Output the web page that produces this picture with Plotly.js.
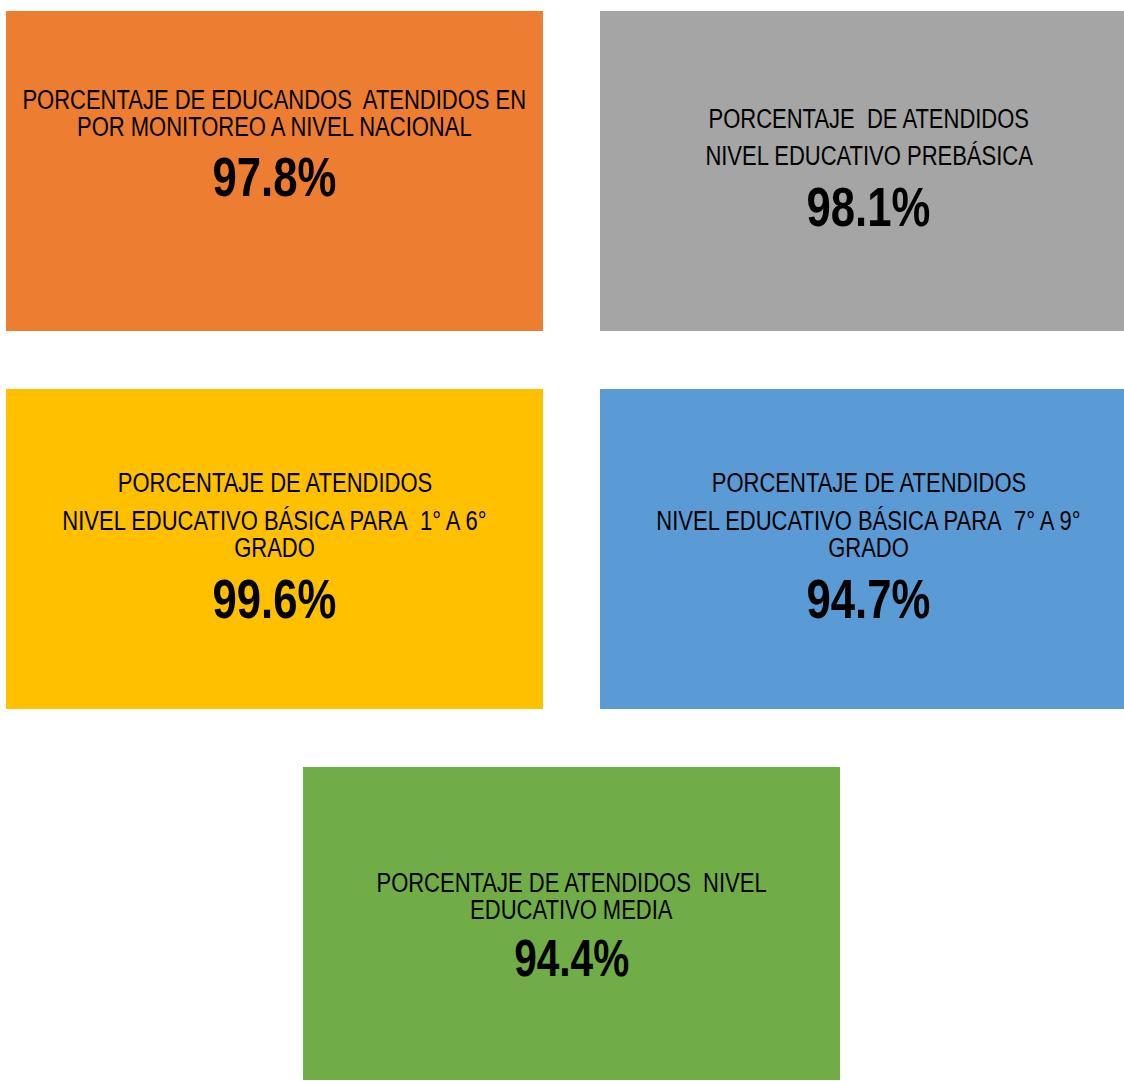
<!DOCTYPE html>
<html>
<head>
<meta charset="utf-8">
<script src="https://cdn.plot.ly/plotly-3.0.1.min.js"></script>
<style>
  html, body { margin: 0; padding: 0; background: #ffffff; }
  #chart { width: 1124px; height: 1081px; }
  #chart text.annotation-text { transform-box: fill-box; transform-origin: center; }
</style>
</head>
<body>
<div id="chart"></div>
<script>
// ---- Data ----
const cardTitles = [
  ["PORCENTAJE DE EDUCANDOS\u00a0 ATENDIDOS EN", "POR MONITOREO A NIVEL NACIONAL"],
  ["PORCENTAJE\u00a0 DE ATENDIDOS", "NIVEL EDUCATIVO PREBÁSICA"],
  ["PORCENTAJE DE ATENDIDOS", "NIVEL EDUCATIVO BÁSICA PARA\u00a0 1° A 6°", "GRADO"],
  ["PORCENTAJE DE ATENDIDOS", "NIVEL EDUCATIVO BÁSICA PARA\u00a0 7° A 9°", "GRADO"],
  ["PORCENTAJE DE ATENDIDOS\u00a0 NIVEL", "EDUCATIVO MEDIA"]
];
const cardValues = [97.8, 98.1, 99.6, 94.7, 94.4];
const cardColors = ["#ED7D31", "#A5A5A5", "#FFC000", "#5B9BD5", "#70AD47"];

// ---- Layout (positions in page pixels) ----
const boxes = [
  {x0: 6,   x1: 543,  y0: 11,  y1: 331},
  {x0: 600, x1: 1137, y0: 11,  y1: 331},
  {x0: 6,   x1: 543,  y0: 389, y1: 709},
  {x0: 600, x1: 1137, y0: 389, y1: 709},
  {x0: 303, x1: 840,  y0: 767, y1: 1080}
];
const titleLineY = [
  [100, 127],
  [119, 156],
  [483, 521, 548],
  [483, 521, 548],
  [883, 910]
];
const valueY = [176, 206, 598, 598, 958];
const centerX = [274.5, 868.5, 274.5, 868.5, 571.5];
const valueSizes = [56, 56, 56, 56, 52];

const FONT = "'Liberation Sans Narrow', 'Arial Narrow', 'Liberation Sans', Arial, sans-serif";
const titleSize = 27;
const titleSqueeze = 0.815;
const valueSqueeze = 0.78;

const shapes = boxes.map((b, i) => ({
  type: "rect", xref: "x", yref: "y",
  x0: b.x0, x1: b.x1, y0: b.y0, y1: b.y1,
  fillcolor: cardColors[i], line: {width: 0}, layer: "below"
}));

const annotations = [];
cardTitles.forEach((lines, i) => {
  lines.forEach((t, j) => {
    annotations.push({
      xref: "x", yref: "y", x: centerX[i], y: titleLineY[i][j],
      text: t, showarrow: false, xanchor: "center", yanchor: "middle",
      font: {family: FONT, size: titleSize, color: "#000000"}
    });
  });
  annotations.push({
    xref: "x", yref: "y", x: centerX[i], y: valueY[i],
    text: "<b>" + cardValues[i].toFixed(1) + "%</b>", showarrow: false,
    xanchor: "center", yanchor: "middle",
    font: {family: FONT, size: valueSizes[i], color: "#000000"}
  });
});

const trace = {
  type: "scatter", mode: "markers",
  x: centerX, y: valueY,
  marker: {opacity: 0}, hoverinfo: "skip", showlegend: false
};

const layout = {
  width: 1124, height: 1081,
  margin: {l: 0, r: 0, t: 0, b: 0, pad: 0},
  paper_bgcolor: "#ffffff", plot_bgcolor: "#ffffff",
  xaxis: {range: [0, 1124], visible: false, fixedrange: true},
  yaxis: {range: [1081, 0], visible: false, fixedrange: true},
  shapes: shapes, annotations: annotations, showlegend: false
};

function squeeze() {
  // emulate the narrow typeface by condensing the text horizontally
  document.querySelectorAll("#chart text.annotation-text").forEach(function (el) {
    const fs = parseFloat(el.style.fontSize || window.getComputedStyle(el).fontSize);
    const s = fs > 40 ? valueSqueeze : titleSqueeze;
    el.style.transform = "scaleX(" + s + ")";
  });
}

Plotly.newPlot("chart", [trace], layout, {staticPlot: true, displayModeBar: false}).then(function (gd) {
  squeeze();
  gd.on("plotly_afterplot", squeeze);
});
</script>
</body>
</html>
